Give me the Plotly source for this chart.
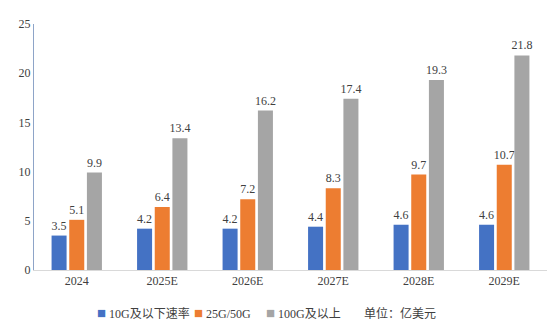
import plotly.graph_objects as go

years = ["2024", "2025E", "2026E", "2027E", "2028E", "2029E"]
low_speed = [3.5, 4.2, 4.2, 4.4, 4.6, 4.6]        # 10G及以下速率
mid_speed = [5.1, 6.4, 7.2, 8.3, 9.7, 10.7]       # 25G/50G
high_speed = [9.9, 13.4, 16.2, 17.4, 19.3, 21.8]  # 100G及以上
series_names = ["10G及以下速率", "25G/50G", "100G及以上"]
y_ticks = [0, 5, 10, 15, 20, 25]
unit_label = "单位：亿美元"

colors = ["#4472C4", "#ED7D31", "#A5A5A5"]
serif = "Liberation Serif, Noto Sans CJK SC, serif"
text_col = "#404040"
label_font = dict(family=serif, size=12, color=text_col)

fig = go.Figure()
for name, vals, col in zip(series_names, [low_speed, mid_speed, high_speed], colors):
    fig.add_trace(go.Bar(
        x=years, y=vals, name=name,
        marker=dict(color=col, line=dict(width=0)),
        text=[f"{v:g}" for v in vals],
        textposition="outside",
        constraintext="none",
        textfont=label_font,
        outsidetextfont=label_font,
        cliponaxis=False,
        showlegend=False,
    ))

# compact legend row drawn as annotations below the axis
plot_l, plot_w = 34, 513
legend_x_px = [95, 192, 264]
annotations = []
for name, col, xp in zip(series_names, colors, legend_x_px):
    annotations.append(dict(
        text=f"<span style='color:{col};font-size:15px'>■</span> {name}",
        xref="paper", yref="paper", x=(xp - plot_l) / plot_w, y=-0.175,
        xanchor="left", yanchor="middle", showarrow=False,
        font=label_font,
    ))
annotations.append(dict(
    text=unit_label, xref="paper", yref="paper",
    x=(362 - plot_l) / plot_w, y=-0.175, xanchor="left", yanchor="middle",
    showarrow=False, font=label_font,
))

fig.update_layout(
    width=554, height=329,
    margin=dict(l=34, r=7, t=24, b=59),
    paper_bgcolor="white", plot_bgcolor="white",
    barmode="group", bargap=0.38, bargroupgap=0.15,
    font=label_font,
    showlegend=False,
    xaxis=dict(
        showline=True, linecolor="#D9D9D9", linewidth=1,
        ticks="", showgrid=False,
        tickfont=label_font,
    ),
    yaxis=dict(
        range=[0, 25], tickvals=y_ticks, showgrid=False,
        showline=True, linecolor="#8EA4C8", linewidth=1,
        ticks="", zeroline=False,
        tickfont=label_font,
    ),
    annotations=annotations,
)

fig.write_html("out.html")
